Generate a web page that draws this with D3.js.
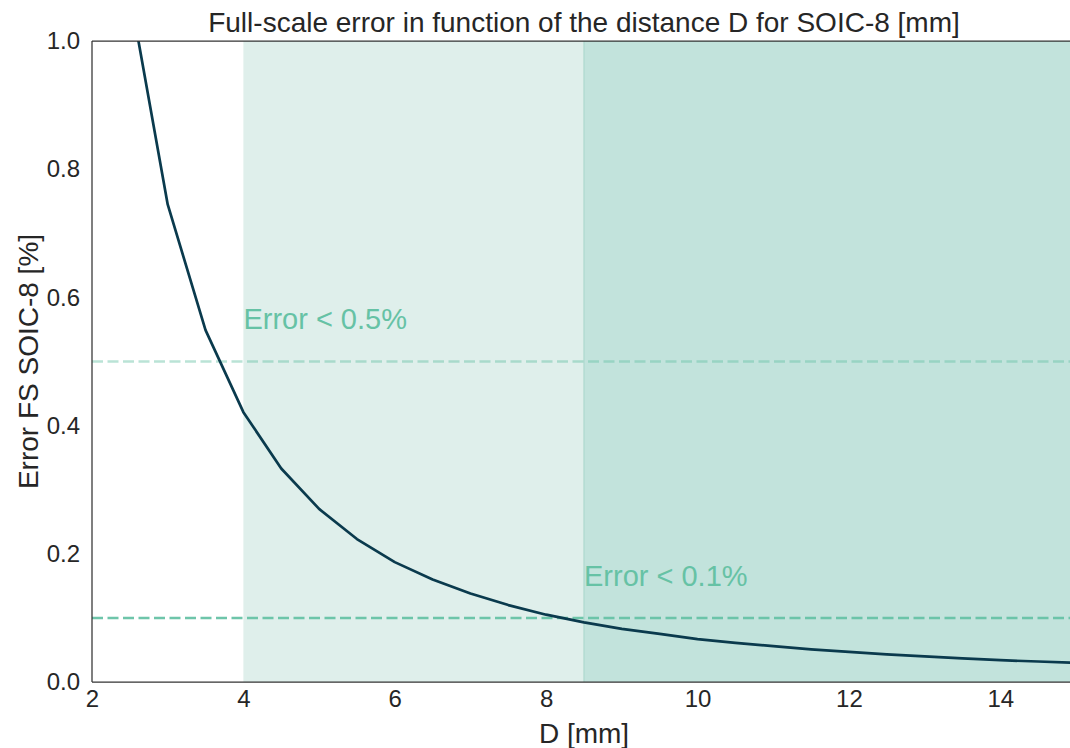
<!DOCTYPE html>
<html><head><meta charset="utf-8">
<script src="https://cdn.jsdelivr.net/npm/d3@7"></script>
<style>body{margin:0;background:#fff;} svg{display:block;font-family:"Liberation Sans",Arial,sans-serif;}</style>
</head><body>
<svg id="c" width="1070" height="748"></svg>
<script>
const distances = [2.5,3,3.5,4,4.5,5,5.5,6,6.5,7,7.5,8,8.5,9,9.5,10,10.5,11,11.5,12,12.5,13,13.5,14,14.5,15];
const errors = [1.075,0.745,0.549,0.421,0.333,0.270,0.223,0.187,0.160,0.138,0.120,0.105,0.093,0.083,0.075,0.067,0.061,0.056,0.051,0.047,0.043,0.040,0.037,0.034,0.032,0.030];
const xTicks = [2,4,6,8,10,12,14];
const yTicks = [0.0,0.2,0.4,0.6,0.8,1.0];
const thresholds = [0.5, 0.1];
const thresholdLabels = ["Error < 0.5%", "Error < 0.1%"];
const labelPos = [[4,0.55],[8.5,0.15]];
const bandStarts = [4, 8.5];
const bandEnd = 15;

const svg = d3.select("#c");
const L=92, R=1076, T=41, B=682;
const x = d3.scaleLinear().domain([2,15]).range([L,R]);
const y = d3.scaleLinear().domain([0,1]).range([B,T]);

svg.append("defs").append("clipPath").attr("id","clip")
  .append("rect").attr("x",L).attr("y",T).attr("width",R-L).attr("height",B-T);
const g = svg.append("g").attr("clip-path","url(#clip)");

// shaded spans
const bandColors = ["#dfefeb","#c2e3dc"];
g.append("rect").attr("x",x(bandStarts[0])).attr("y",T).attr("width",x(bandStarts[1])-x(bandStarts[0])).attr("height",B-T).attr("fill",bandColors[0]);
g.append("rect").attr("x",x(bandStarts[1])).attr("y",T).attr("width",x(bandEnd)-x(bandStarts[1])).attr("height",B-T).attr("fill",bandColors[1]);
g.append("line").attr("x1",x(bandStarts[1])).attr("x2",x(bandStarts[1])).attr("y1",T).attr("y2",B)
 .attr("stroke","#aed8ce").attr("stroke-width",1.2);

// threshold lines
g.append("line").attr("x1",L).attr("x2",R).attr("y1",y(thresholds[0])).attr("y2",y(thresholds[0]))
 .attr("stroke","#66c2a5").attr("stroke-opacity",0.45).attr("stroke-width",2.5).attr("stroke-dasharray","11,4.5");
g.append("line").attr("x1",L).attr("x2",R).attr("y1",y(thresholds[1])).attr("y2",y(thresholds[1]))
 .attr("stroke","#66c2a5").attr("stroke-opacity",0.95).attr("stroke-width",2.5).attr("stroke-dasharray","11,4.5");

// curve
const line = d3.line().x((d,i)=>x(distances[i])).y(d=>y(d));
g.append("path").datum(errors).attr("d",line).attr("fill","none")
 .attr("stroke","#0a3a4d").attr("stroke-width",2.7).attr("stroke-linejoin","round");

// labels
thresholdLabels.forEach((t,i)=>{
  svg.append("text").attr("x",x(labelPos[i][0])).attr("y",y(labelPos[i][1]))
    .attr("font-size",29).attr("fill","#66c2a5").text(t);
});

// spines
svg.append("line").attr("x1",L).attr("x2",L).attr("y1",T).attr("y2",B).attr("stroke","#333").attr("stroke-width",1.25);
svg.append("line").attr("x1",L).attr("x2",R).attr("y1",B).attr("y2",B).attr("stroke","#333").attr("stroke-width",1.25);
svg.append("line").attr("x1",L).attr("x2",R).attr("y1",T).attr("y2",T).attr("stroke","#333").attr("stroke-width",1.25);

// axes
const xa = svg.append("g").attr("transform",`translate(0,${B})`)
  .call(d3.axisBottom(x).tickValues(xTicks).tickSize(0).tickPadding(8).tickFormat(d3.format("d")));
xa.select(".domain").remove();
xa.selectAll("text").attr("font-size",24).attr("fill","#262626").attr("font-family","Liberation Sans, Arial, sans-serif");
const ya = svg.append("g").attr("transform",`translate(${L},0)`)
  .call(d3.axisLeft(y).tickValues(yTicks).tickSize(0).tickPadding(12).tickFormat(d3.format(".1f")));
ya.select(".domain").remove();
ya.selectAll("text").attr("font-size",24).attr("fill","#262626").attr("font-family","Liberation Sans, Arial, sans-serif");

// title & axis labels
svg.append("text").attr("x",(L+R)/2).attr("y",32).attr("text-anchor","middle")
  .attr("font-size",28).attr("fill","#262626").text("Full-scale error in function of the distance D for SOIC-8 [mm]");
svg.append("text").attr("x",(L+R)/2).attr("y",743).attr("text-anchor","middle")
  .attr("font-size",28).attr("fill","#262626").text("D [mm]");
svg.append("text").attr("transform",`translate(38,${(T+B)/2}) rotate(-90)`).attr("text-anchor","middle")
  .attr("font-size",28).attr("fill","#262626").text("Error FS SOIC-8 [%]");
</script>
</body></html>
